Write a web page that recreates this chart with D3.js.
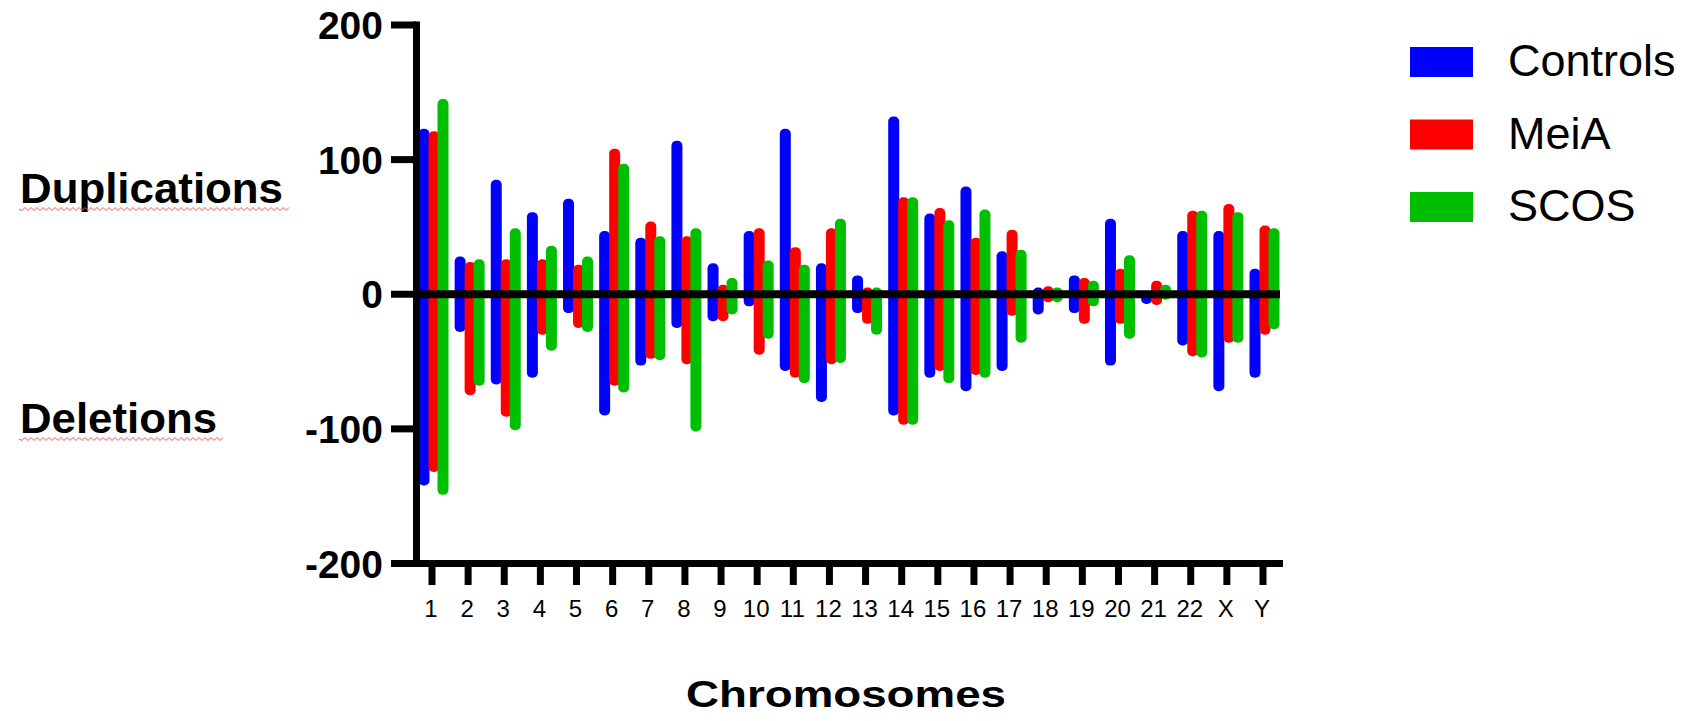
<!DOCTYPE html>
<html>
<head>
<meta charset="utf-8">
<script src="https://cdn.jsdelivr.net/npm/d3@7"></script>
<style>
  body { margin: 0; background: #fff; }
  text { font-family: "Liberation Sans", Arial, sans-serif; }
</style>
</head>
<body>
<div id="chart"></div>
<script>
// chromosome categories
const chromosomes = ["1","2","3","4","5","6","7","8","9","10","11","12","13","14","15","16","17","18","19","20","21","22","X","Y"]

// duplications (top of bar) and deletions (bottom of bar) per group
const controlsDup = [123, 28, 85, 61, 71, 47, 42, 114, 23, 47, 123, 23, 14, 132, 60, 80, 32, 5, 14, 56, 1, 47, 47, 19]
const controlsDel = [-142, -28, -67, -62, -14, -90, -53, -25, -20, -9, -57, -80, -14, -90, -62, -72, -57, -15, -14, -53, -5, -38, -72, -62]
const meiaDup = [121, 24, 26, 26, 22, 108, 54, 43, 7, 49, 35, 49, 5, 72, 64, 42, 48, 6, 12, 19, 10, 62, 67, 51]
const meiaDel = [-132, -75, -91, -30, -25, -68, -48, -52, -20, -45, -62, -52, -22, -97, -57, -60, -16, -6, -22, -22, -8, -46, -36, -30]
const scosDup = [145, 26, 49, 36, 28, 97, 43, 49, 12, 25, 22, 56, 5, 72, 55, 63, 33, 5, 10, 29, 7, 62, 61, 49]
const scosDel = [-149, -68, -101, -42, -28, -73, -49, -102, -15, -33, -66, -51, -30, -97, -66, -62, -36, -6, -9, -33, -4, -47, -36, -26]

const seriesNames = ["Controls", "MeiA", "SCOS"]
const yTicks = [200, 100, 0, -100, -200]

const width = 1688
const height = 721

const colors = ["#0000ff", "#ff0000", "#00bf00"]
const offsets = [-8, 2, 11]   // bar offset from the tick, per series
const barW = 11

const series = [
  {name: seriesNames[0], dup: controlsDup, del: controlsDel},
  {name: seriesNames[1], dup: meiaDup, del: meiaDel},
  {name: seriesNames[2], dup: scosDup, del: scosDel}
]

const svg = d3.select("#chart")
  .append("svg")
  .attr("width", width)
  .attr("height", height)

const x = d3.scalePoint()
  .domain(chromosomes)
  .range([432, 1263])

const y = d3.scaleLinear()
  .domain([-200, 200])
  .range([563.5, 25])

const axisX = 416.5

// floating bars, one group per chromosome
series.forEach((s, si) => {
  svg.append("g")
    .selectAll("rect")
    .data(chromosomes)
    .join("rect")
      .attr("x", (d, i) => x(d) + offsets[si] - barW / 2)
      .attr("y", (d, i) => y(s.dup[i]))
      .attr("width", barW)
      .attr("height", (d, i) => Math.max(barW, y(s.del[i]) - y(s.dup[i])))
      .attr("rx", 5)
      .attr("fill", colors[si])
})

// zero line on top of the bars
svg.append("line")
  .attr("x1", axisX).attr("x2", 1280)
  .attr("y1", y(0)).attr("y2", y(0))
  .attr("stroke", "black")
  .attr("stroke-width", 8)

// y axis
svg.append("line")
  .attr("x1", axisX).attr("x2", axisX)
  .attr("y1", y(200) - 3.5).attr("y2", y(-200) + 3.5)
  .attr("stroke", "black")
  .attr("stroke-width", 7)

svg.append("g")
  .selectAll("line")
  .data(yTicks)
  .join("line")
    .attr("x1", 391).attr("x2", axisX)
    .attr("y1", d => y(d)).attr("y2", d => y(d))
    .attr("stroke", "black")
    .attr("stroke-width", 7)

svg.append("g")
  .selectAll("text")
  .data(yTicks)
  .join("text")
    .attr("x", 383)
    .attr("y", d => y(d))
    .attr("dy", "0.36em")
    .attr("text-anchor", "end")
    .attr("font-size", 39)
    .attr("font-weight", "bold")
    .text(d => d)

// x axis
svg.append("line")
  .attr("x1", axisX).attr("x2", 1283)
  .attr("y1", y(-200)).attr("y2", y(-200))
  .attr("stroke", "black")
  .attr("stroke-width", 7)

svg.append("g")
  .selectAll("line")
  .data(chromosomes)
  .join("line")
    .attr("x1", d => x(d)).attr("x2", d => x(d))
    .attr("y1", y(-200)).attr("y2", 585)
    .attr("stroke", "black")
    .attr("stroke-width", 7)

svg.append("g")
  .selectAll("text")
  .data(chromosomes)
  .join("text")
    .attr("x", d => x(d) - 1)
    .attr("y", 617)
    .attr("text-anchor", "middle")
    .attr("font-size", 24)
    .text(d => d)

svg.append("text")
  .attr("x", 846)
  .attr("y", 707)
  .attr("text-anchor", "middle")
  .attr("font-size", 37)
  .attr("font-weight", "bold")
  .attr("textLength", 320)
  .attr("lengthAdjust", "spacingAndGlyphs")
  .text("Chromosomes")

// side labels with the spell-check squiggle under them
function squiggle(x0, x1, yy) {
  let p = "M" + x0 + "," + yy
  for (let xx = x0, k = 0; xx < x1; xx += 3, k++) {
    p += " L" + (xx + 3) + "," + (yy + (k % 2 ? -1.5 : 1.5))
  }
  return p
}

const sideLabels = [
  {text: "Duplications", y: 203, w: 263},
  {text: "Deletions", y: 433, w: 197}
]
sideLabels.forEach(l => {
  svg.append("text")
    .attr("x", 20)
    .attr("y", l.y)
    .attr("font-size", 42)
    .attr("font-weight", "bold")
    .attr("textLength", l.w)
    .attr("lengthAdjust", "spacingAndGlyphs")
    .text(l.text)
  svg.append("path")
    .attr("d", squiggle(19, 20 + l.w + 5, l.y + 6))
    .attr("fill", "none")
    .attr("stroke", "#f05050")
    .attr("stroke-width", 1)
})

// legend
const legend = svg.append("g")
  .selectAll("g")
  .data(seriesNames)
  .join("g")
    .attr("transform", (d, i) => "translate(1410," + (47 + i * 72.5) + ")")

legend.append("rect")
  .attr("width", 63)
  .attr("height", 30)
  .attr("fill", (d, i) => colors[i])

legend.append("text")
  .attr("x", 98)
  .attr("y", 29)
  .attr("font-size", 45)
  .text(d => d)
</script>
</body>
</html>
